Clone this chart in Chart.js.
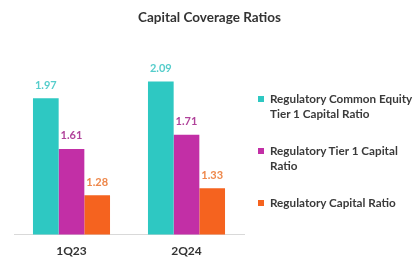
<!DOCTYPE html>
<html>
<head>
<meta charset="utf-8">
<script src="https://cdn.jsdelivr.net/npm/chart.js@4"></script>
<style>
  body { margin: 0; background: #fff; }
  #wrap { position: relative; width: 419px; height: 258px; overflow: hidden; }
  #title { position: absolute; left: 0; width: 419px; top: 9px; text-align: center; font: bold 13.5px Lato, sans-serif; color: #333; }
  #legend { position: absolute; left: 258px; top: 91px; font: bold 11.7px Lato, sans-serif; color: #3a3a3a; }
  .item { display: flex; align-items: flex-start; margin-bottom: 22px; line-height: 15px; }
  .item:last-child { margin-top: 2px; }
  .sw { width: 6px; height: 6px; margin: 5px 6px 0 0; flex: none; }
</style>
</head>
<body>
<div id="wrap">
  <canvas id="chart" width="419" height="258"></canvas>
  <div id="title">Capital Coverage Ratios</div>
  <div id="legend"></div>
</div>
<script>
const categories = ['1Q23', '2Q24'];
const seriesNames = [
    ['Regulatory Common Equity', 'Tier 1 Capital Ratio'],
    ['Regulatory Tier 1 Capital', 'Ratio'],
    ['Regulatory Capital Ratio']
];
const cet1Ratio = [1.97, 2.09];
const tier1Ratio = [1.61, 1.71];
const capitalRatio = [1.28, 1.33];

const barColors = ['#2ec8c2', '#c22fa6', '#f5631f'];
const labelColors = ['#55cdcb', '#b0429a', '#ee874a'];

// value labels above each bar
const valueLabels = {
    id: 'valueLabels',
    afterDatasetsDraw(chart) {
        const ctx = chart.ctx;
        ctx.save();
        ctx.font = 'bold 11px Lato, sans-serif';
        ctx.textAlign = 'center';
        ctx.textBaseline = 'middle';
        chart.data.datasets.forEach((ds, i) => {
            chart.getDatasetMeta(i).data.forEach((bar, j) => {
                ctx.fillStyle = labelColors[i];
                ctx.fillText(ds.data[j].toFixed(2), bar.x, bar.y - 13);
            });
        });
        ctx.restore();
    }
};

const myChart = new Chart(document.getElementById('chart'), {
    type: 'bar',
    data: {
        labels: categories,
        datasets: [cet1Ratio, tier1Ratio, capitalRatio].map((d, i) => ({
            label: seriesNames[i].join(' '),
            data: d,
            backgroundColor: barColors[i],
            categoryPercentage: 0.67,
            barPercentage: 1
        }))
    },
    options: {
        responsive: false,
        animation: false,
        layout: { padding: { left: 14, right: 175, top: 66, bottom: -9 } },
        plugins: {
            legend: { display: false },
            tooltip: { enabled: false },
            title: { display: false }
        },
        scales: {
            x: {
                grid: { display: false, drawTicks: false, tickLength: 0 },
                border: { color: '#d9d9d9' },
                ticks: { color: '#333', padding: 9, font: { family: 'Lato', size: 12, weight: 'bold' } }
            },
            y: { display: false, min: 1, max: 2.2 }
        }
    },
    plugins: [valueLabels]
});

const legend = document.getElementById('legend');
seriesNames.forEach((lines, i) => {
    legend.innerHTML += '<div class="item"><span class="sw" style="background:' + barColors[i] + '"></span><span>' + lines.join('<br>') + '</span></div>';
});
</script>
</body>
</html>
